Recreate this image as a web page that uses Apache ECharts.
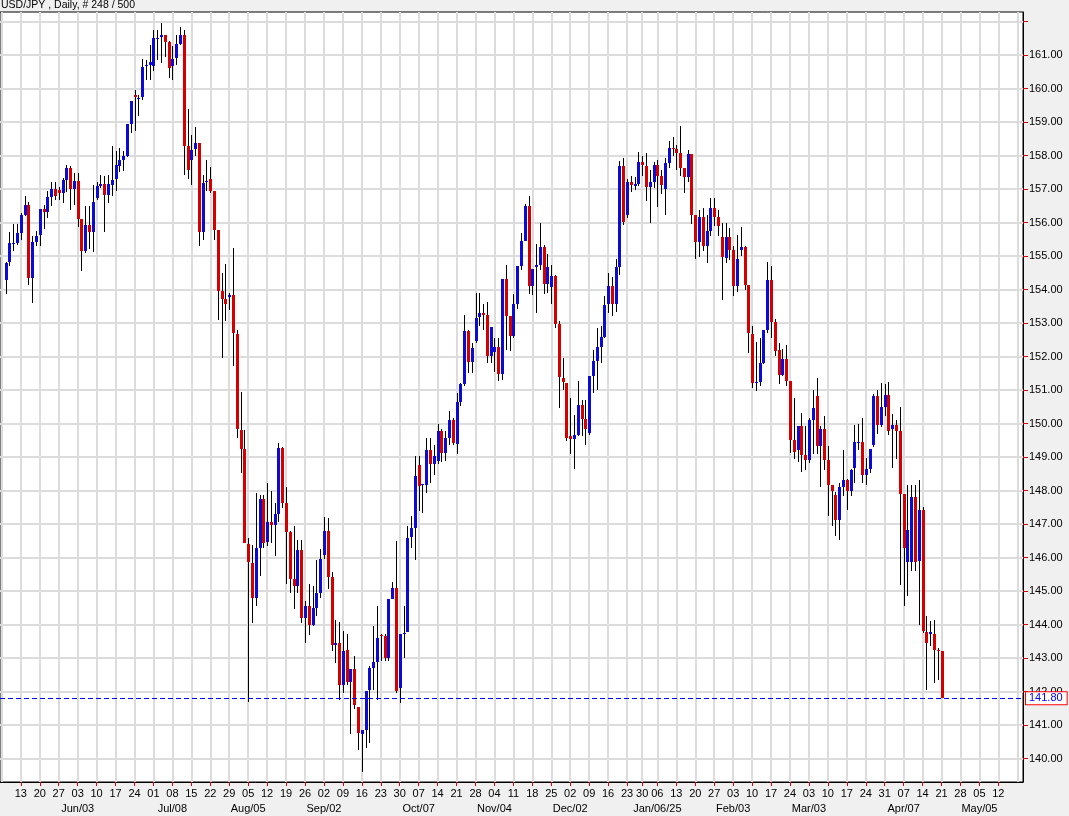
<!DOCTYPE html>
<html>
<head>
<meta charset="utf-8">
<script src="https://cdn.jsdelivr.net/npm/echarts@6/dist/echarts.min.js"></script>
<style>
html,body{margin:0;padding:0;background:#f0f0f0;}
#c{width:1069px;height:816px;}
</style>
</head>
<body>
<div id="c"></div>
<script>
// ---- data ----
const titleText = 'USD/JPY , Daily, # 248 / 500';
const firstSlot = '2024-05-06';      // empty slot before the first bar
const holidays = ['2024-12-25', '2025-01-01'];
const slotCount = 270;               // trading-day slots on the axis (incl. future)
const firstLabel = '2024-05-13';
const lastLabel = '2025-05-12';
const lastPrice = 141.80;

const open = [154.28,154.82,155.36,155.39,155.69,156.24,156.54,154.34,155.43,155.64,
156.41,156.31,156.76,157.01,156.99,156.89,157.28,157.63,157.01,157.25,
156.12,155.15,155.94,155.71,156.73,157.09,157.14,156.84,157.13,157.30,
157.70,157.88,157.98,158.96,159.82,159.70,159.74,160.67,160.72,160.67,
161.51,161.53,161.61,161.38,160.69,160.92,161.34,161.61,158.30,157.86,
158.20,158.38,155.71,157.20,157.30,156.94,155.79,153.95,153.72,153.78,
153.85,152.69,149.82,149.23,146.42,145.84,144.79,146.29,147.74,146.46,
147.06,146.98,147.29,149.27,147.64,146.76,145.35,145.15,146.24,144.20,
144.55,144.00,144.50,144.93,146.08,146.79,145.42,143.40,143.44,142.21,
143.24,142.28,142.66,141.55,140.72,140.84,142.04,142.71,142.89,143.70,
143.66,143.01,144.75,145.10,142.11,143.74,143.77,146.61,146.87,148.75,
148.18,148.18,149.20,148.78,148.88,149.78,149.13,149.58,150.12,149.38,
150.65,151.17,152.76,151.83,152.46,153.19,153.29,153.25,152.01,152.14,
152.29,151.47,154.32,153.21,152.63,153.56,154.70,155.45,156.51,154.12,
154.67,154.75,155.28,154.18,154.08,154.42,152.96,151.37,151.22,149.63,
149.55,149.65,150.57,150.14,149.73,151.42,151.87,152.30,152.60,153.57,
154.11,153.58,154.69,157.68,156.23,157.20,157.08,157.16,157.80,157.70,
157.06,157.20,157.73,157.38,157.00,157.78,158.22,158.19,158.07,157.63,
157.36,158.06,156.23,155.41,156.16,155.29,155.76,156.43,156.16,155.57,
154.94,155.57,155.19,154.11,155.17,155.27,154.14,152.68,151.21,151.23,
151.81,152.80,154.28,153.02,152.20,151.46,151.93,151.26,149.50,149.20,
149.94,149.07,148.90,150.12,150.81,149.34,149.84,148.90,148.18,147.88,
147.11,148.10,148.33,147.98,148.69,149.42,149.46,148.47,148.64,149.37,
150.81,149.97,150.51,150.86,149.84,149.97,149.79,147.91,145.87,145.87,
147.81,145.89,147.43,143.77,143.73,143.73,143.25,143.20];

const high = [154.82,155.71,155.97,155.97,156.29,156.81,156.61,155.59,155.74,156.41,
156.54,156.94,157.22,157.20,157.07,157.33,157.73,157.68,157.48,157.48,
156.12,156.51,156.49,157.11,157.21,157.43,157.38,157.43,158.28,158.13,
158.23,158.13,158.96,159.64,159.97,159.82,160.89,160.87,161.31,161.76,
161.76,161.96,161.61,161.41,161.28,161.61,161.84,161.76,159.40,158.61,
158.86,158.38,157.43,157.88,157.65,156.94,155.79,154.50,154.78,153.90,
155.24,152.81,150.94,149.81,146.59,146.39,147.93,147.86,147.88,148.23,
147.98,147.64,149.43,149.31,148.10,146.79,146.94,146.54,146.52,144.70,
145.20,145.15,145.94,146.27,147.22,147.19,145.57,144.15,144.07,143.81,
143.71,142.66,143.06,141.55,140.84,142.01,142.76,143.95,144.55,143.72,
143.71,144.75,145.27,146.49,143.72,144.55,146.94,147.24,149.03,149.03,
148.20,149.58,149.58,149.35,150.00,149.83,149.78,150.37,150.17,150.92,
151.22,153.23,152.81,152.41,153.91,153.89,153.56,153.63,152.89,152.56,
152.56,154.32,154.75,153.21,153.86,154.70,155.70,156.57,156.79,154.62,
155.37,156.00,155.32,155.05,154.75,154.45,153.06,151.96,151.22,150.77,
150.27,151.27,150.72,150.72,151.42,152.21,152.85,152.90,153.82,154.49,
154.39,154.91,157.83,157.93,157.30,157.40,157.36,158.10,158.00,158.07,
157.58,157.80,157.86,157.58,157.93,158.45,158.57,158.32,158.89,157.63,
158.17,158.06,156.23,156.38,156.43,156.23,156.73,156.73,156.38,156.00,
155.99,155.84,155.29,155.64,155.88,155.29,154.14,152.90,152.45,152.55,
152.80,154.84,154.70,153.12,152.42,152.22,152.35,151.26,150.76,149.94,
150.32,149.92,150.17,151.01,151.36,149.94,150.22,149.34,148.18,147.95,
148.22,149.22,148.35,148.64,149.97,150.00,150.17,148.97,149.25,150.89,
150.99,151.21,151.19,151.23,150.29,150.10,150.51,147.91,148.18,148.18,
148.18,148.32,147.51,144.25,144.10,144.13,143.30,143.20];

const low = [153.87,154.70,155.15,155.34,155.49,156.21,154.15,153.60,155.29,155.31,
155.82,156.14,156.51,156.69,156.67,156.59,156.91,156.37,156.54,155.87,
154.55,155.10,155.20,155.12,156.69,157.04,155.71,156.59,156.79,156.94,
157.50,157.53,157.96,158.68,158.73,159.17,159.67,160.27,160.25,160.52,
160.87,160.77,160.95,160.32,160.25,160.72,161.31,157.43,157.31,157.13,
157.98,155.31,155.47,156.94,156.89,155.49,153.10,151.96,153.06,153.40,
151.71,149.58,148.53,146.44,141.69,144.05,144.55,145.45,146.29,146.34,
146.44,146.06,147.06,147.49,145.20,144.95,144.47,144.95,144.05,143.46,
143.70,143.95,144.27,144.80,145.95,145.05,143.21,142.86,141.76,141.96,
142.21,140.72,141.47,140.27,139.59,140.32,140.47,142.06,141.76,142.90,
142.91,142.91,144.75,141.96,141.67,143.01,143.77,146.29,145.92,147.39,
147.34,147.93,148.23,148.48,148.80,148.85,148.88,149.35,149.35,149.08,
150.52,151.12,151.52,151.50,152.41,152.91,152.81,151.81,151.80,151.54,
151.27,151.29,152.21,152.16,152.56,153.41,154.60,155.45,153.86,153.83,
153.29,154.60,153.88,153.90,153.56,152.86,150.47,151.00,149.48,149.08,
148.65,149.63,149.63,149.35,149.65,150.92,151.00,151.80,152.55,153.30,
153.20,153.32,154.44,155.93,156.13,156.93,156.98,157.08,157.40,156.66,
156.00,157.03,156.46,156.86,156.23,157.63,158.00,157.58,157.40,156.90,
157.20,155.97,154.91,154.97,155.14,154.79,155.60,155.90,155.60,153.70,
154.79,154.90,153.80,153.92,155.00,153.99,152.12,151.06,150.96,151.13,
151.79,152.72,152.55,152.03,151.19,151.41,151.11,149.12,148.94,148.84,
148.57,148.62,148.82,149.10,149.10,148.10,148.62,147.23,146.93,146.63,
146.53,147.85,147.41,147.85,148.23,149.20,148.22,148.18,148.54,149.30,
149.70,149.90,150.24,149.67,148.67,148.94,145.19,144.54,144.84,145.59,
145.59,144.00,143.75,142.06,143.35,142.25,142.35,141.80];

const close = [154.80,155.39,155.38,155.69,156.24,156.54,154.34,155.43,155.61,156.41,
156.31,156.76,157.01,156.81,156.89,157.28,157.63,157.01,157.25,156.12,
155.15,155.94,155.71,156.61,157.09,157.14,156.84,157.14,157.28,157.73,
157.88,157.98,158.96,159.64,159.74,159.72,160.65,160.72,160.79,161.51,
161.52,161.61,161.38,160.62,160.89,161.34,161.61,158.30,157.56,158.18,
158.38,155.71,157.18,157.25,156.94,155.79,153.95,153.72,153.58,153.85,
152.71,149.84,149.25,146.44,145.86,144.79,146.29,147.74,146.44,147.06,
146.98,147.29,149.27,147.64,146.76,145.35,145.15,146.24,144.20,144.55,
144.00,144.50,144.93,145.96,146.79,145.42,143.39,143.44,142.21,143.21,
142.28,142.66,141.59,140.77,140.84,142.01,142.71,142.89,143.61,143.66,
143.01,144.75,145.10,142.01,143.72,143.76,146.59,146.87,148.45,148.15,
148.20,149.20,148.78,149.03,149.77,149.13,149.58,150.12,149.43,150.65,
151.17,152.76,151.83,152.26,153.16,153.29,153.25,152.01,152.89,152.29,
151.47,154.32,153.21,152.61,153.56,154.70,155.45,156.51,154.12,154.62,
154.75,155.28,154.18,154.68,154.42,152.96,151.39,151.24,149.58,149.55,
149.65,150.57,150.14,149.83,151.42,151.87,152.28,152.60,153.55,154.11,
153.58,154.69,157.68,156.03,157.20,157.11,157.16,157.80,157.73,157.06,
157.20,157.73,157.38,157.13,157.78,158.22,158.19,158.07,157.63,157.36,
158.06,156.23,155.41,156.16,155.29,155.76,156.43,156.16,155.89,154.97,
155.57,155.19,154.11,154.91,155.27,154.14,152.70,151.21,151.25,151.81,
152.80,154.28,153.02,152.18,151.46,151.93,151.26,149.50,149.14,149.94,
149.07,148.90,150.12,150.46,149.34,149.84,148.90,148.18,147.98,147.11,
148.10,148.33,147.98,148.62,149.44,149.46,148.47,148.64,149.25,150.81,
149.97,150.51,150.86,149.77,149.97,149.79,147.91,146.30,146.83,147.81,
145.87,147.43,143.80,143.45,143.79,143.25,143.20,141.80];

const gridPrices = [140,141,142,143,144,145,146,147,148,149,150,151,152,153,154,155,156,157,158,159,160,161,162];
const labelPrices = [140,141,142,143,144,145,146,147,148,149,150,151,152,153,154,155,156,157,158,159,160,161];
const monthLabels = [
  ['2024-06-03','Jun/03'],['2024-07-08','Jul/08'],['2024-08-05','Aug/05'],['2024-09-02','Sep/02'],
  ['2024-10-07','Oct/07'],['2024-11-04','Nov/04'],['2024-12-02','Dec/02'],['2025-01-06','Jan/06/25'],
  ['2025-02-03','Feb/03'],['2025-03-03','Mar/03'],['2025-04-07','Apr/07'],['2025-05-05','May/05']
];

// ---- trading-day calendar (weekdays, without the two holidays) ----
const dates = [];
(function(){
  const p = firstSlot.split('-').map(Number);
  let t = Date.UTC(p[0], p[1]-1, p[2]);
  while (dates.length < slotCount) {
    const d = new Date(t);
    const wd = d.getUTCDay();
    const s = d.toISOString().slice(0,10);
    if (wd !== 0 && wd !== 6 && holidays.indexOf(s) < 0) dates.push(s);
    t += 86400000;
  }
})();
const monthMap = {};
monthLabels.forEach(m => monthMap[m[0]] = m[1]);
const isMonday = (idx, val) => new Date(val + 'T00:00:00Z').getUTCDay() === 1;
const inLabelRange = v => v >= firstLabel && v <= lastLabel;
const isTickMonday = (idx, val) => isMonday(idx, val) && inLabelRange(val);
// every Monday gets a label slot (so the layout keeps them), out-of-range ones are blank
const labelText = v => inLabelRange(v) ? v.slice(8, 10) + (monthMap[v] ? '\n' + monthMap[v] : '') : '';

const UP = '#0b0bd4';
const DOWN = '#d40000';

const candleData = open.map((o, i) => [i + 1, o, close[i], low[i], high[i]]);

function renderItem(params, api) {
  const i = api.value(0);
  const o = api.value(1), c = api.value(2), l = api.value(3), h = api.value(4);
  const pO = api.coord([i, o]), pC = api.coord([i, c]);
  const pL = api.coord([i, l]), pH = api.coord([i, h]);
  const x = Math.round(pO[0]);
  const yH = Math.round(pH[1]), yL = Math.round(pL[1]);
  const top = Math.round(Math.min(pO[1], pC[1]));
  const bot = Math.round(Math.max(pO[1], pC[1]));
  const col = c > o ? UP : (c < o ? DOWN : '#000');
  return {
    type: 'group',
    children: [
      { type: 'rect', shape: { x: x, y: yH, width: 1, height: Math.max(1, yL - yH) }, style: { fill: '#000' } },
      { type: 'rect', shape: { x: x - 1, y: top, width: 3, height: Math.max(1, bot - top) }, style: { fill: col } }
    ]
  };
}

const FONT = '"Liberation Sans", Arial, sans-serif';
const chart = echarts.init(document.getElementById('c'), null, { renderer: 'canvas' });
chart.setOption({
  animation: false,
  backgroundColor: '#f0f0f0',
  textStyle: { fontFamily: FONT },
  graphic: [{
    type: 'text', left: 1, top: 0,
    style: { text: titleText, fill: '#000', font: '10.5px ' + FONT }
  }],
  grid: {
    left: 0, right: 46, top: 12, bottom: 34,
    outerBoundsMode: 'none', containLabel: false,
    show: true, backgroundColor: '#ffffff', borderColor: '#000', borderWidth: 1
  },
  xAxis: {
    type: 'category',
    data: dates,
    boundaryGap: true,
    axisLine: { lineStyle: { color: '#000', width: 1 } },
    axisTick: { show: true, interval: isTickMonday, alignWithLabel: true, length: 4, lineStyle: { color: '#e00000' } },
    axisLabel: {
      interval: isMonday, hideOverlap: false, showMinLabel: false, showMaxLabel: false,
      color: '#000', fontSize: 11, fontFamily: FONT, margin: 4, lineHeight: 15,
      formatter: labelText
    },
    splitLine: { show: true, interval: isMonday, alignWithLabel: true, lineStyle: { color: '#dcdcdc', width: 2 } }
  },
  yAxis: {
    type: 'value',
    position: 'right',
    min: 139.30, max: 162.29,
    scale: true,
    axisLine: { show: true, lineStyle: { color: '#000', width: 1 } },
    axisTick: { show: true, customValues: gridPrices, length: 5, lineStyle: { color: '#e00000' } },
    axisLabel: { customValues: labelPrices, color: '#000', fontSize: 11, fontFamily: FONT, margin: 6,
      formatter: v => v.toFixed(2) },
    splitLine: { show: true, lineStyle: { color: '#dcdcdc', width: 2 } }
  },
  series: [{
    type: 'custom',
    renderItem: renderItem,
    data: candleData,
    encode: { x: 0, y: [1, 2, 3, 4] },
    clip: true,
    markLine: {
      silent: true, symbol: 'none', animation: false,
      lineStyle: { color: '#0000ff', type: [5, 3], width: 1 },
      label: {
        show: true, position: 'end', distance: 3,
        formatter: () => lastPrice.toFixed(2),
        color: '#0000ff', fontSize: 11, fontFamily: FONT,
        backgroundColor: '#ffffff', borderColor: '#ff0000', borderWidth: 1, padding: [1, 4, 0, 3]
      },
      data: [{ yAxis: lastPrice }]
    }
  }]
});
</script>
</body>
</html>
